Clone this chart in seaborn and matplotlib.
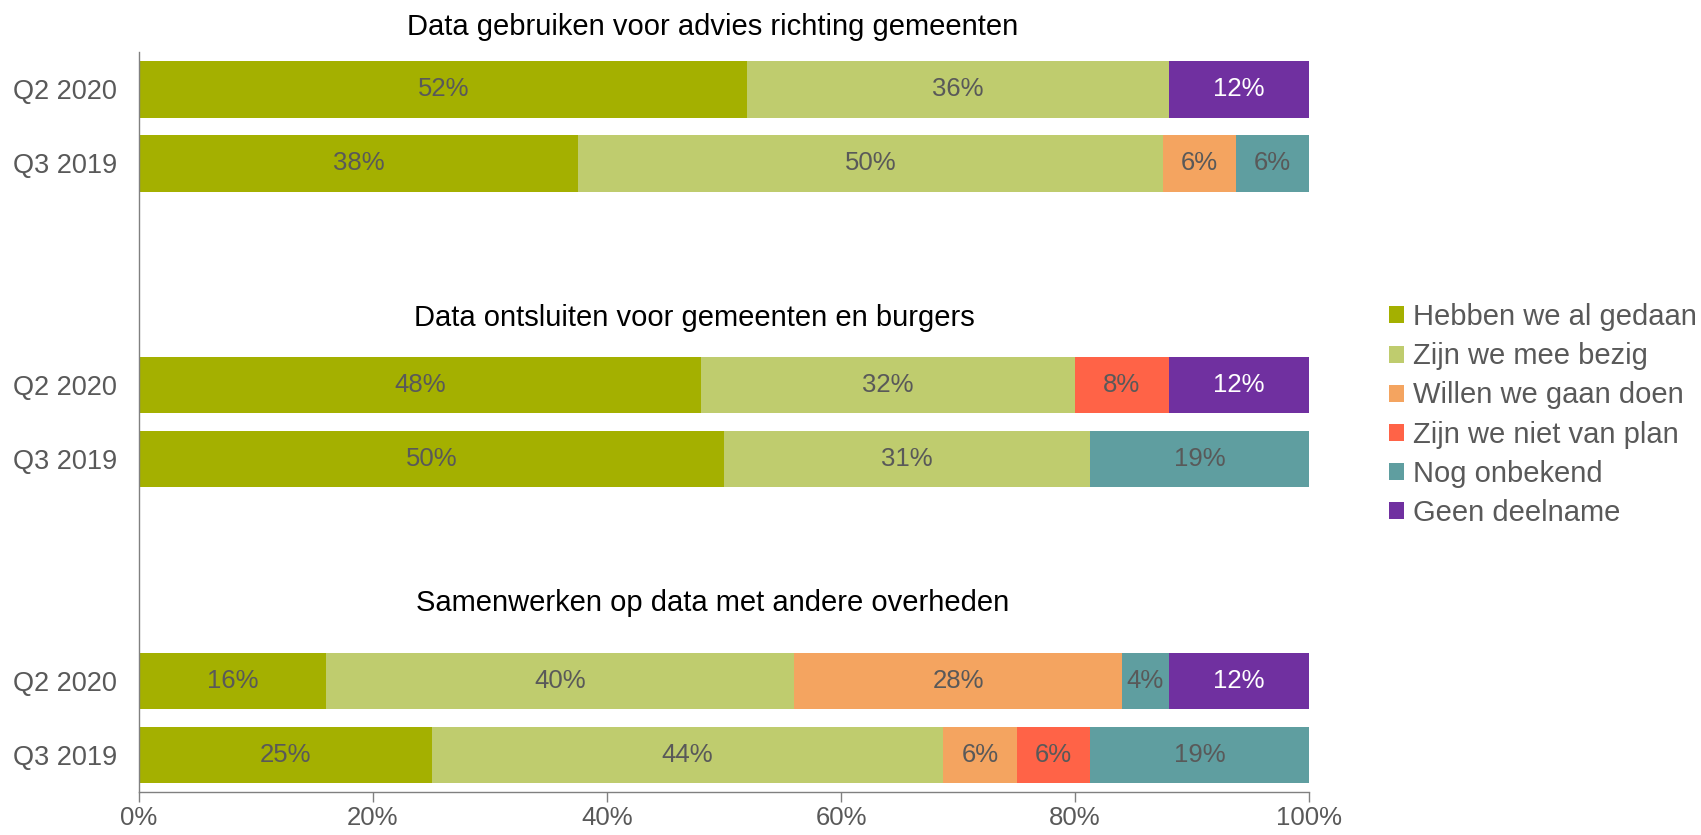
import numpy as np
import pandas as pd
import matplotlib
matplotlib.use("Agg")
import matplotlib.pyplot as plt
from matplotlib.patches import Patch
import seaborn as sns

# ---- data ----
groups = ["Data gebruiken voor advies richting gemeenten",
          "Data ontsluiten voor gemeenten en burgers",
          "Samenwerken op data met andere overheden"]
periods = ["Q2 2020", "Q3 2019"]
categories = ["Hebben we al gedaan", "Zijn we mee bezig", "Willen we gaan doen",
              "Zijn we niet van plan", "Nog onbekend", "Geen deelname"]
# rows: g1 Q2, g1 Q3, g2 Q2, g2 Q3, g3 Q2, g3 Q3
hebben = [52, 37.5, 48, 50, 16, 25]
bezig = [36, 50, 32, 31.25, 40, 43.75]
willen = [0, 6.25, 0, 0, 28, 6.25]
niet = [0, 0, 8, 0, 0, 6.25]
onbekend = [0, 6.25, 0, 18.75, 4, 18.75]
geen = [12, 0, 12, 0, 12, 0]
colors = ["#A4B000", "#BFCC6E", "#F4A460", "#FF6347", "#5F9EA0", "#7030A0"]
label_colors = ["#595959", "#595959", "#595959", "#595959", "#595959", "white"]

series = [hebben, bezig, willen, niet, onbekend, geen]

sns.set_theme(style="white")
plt.rcParams["font.family"] = ["Liberation Sans", "DejaVu Sans"]
TXT = "#595959"

fig = plt.figure(figsize=(17.01, 8.35), dpi=100)
ax = fig.add_axes([0.0817, 0.0515, 0.7696 - 0.0817, 0.9377 - 0.0515])

rows = [g * 4 + p for g in range(len(groups)) for p in range(len(periods))]
vals = np.array(series, dtype=float)  # (cat, row)
cum = np.cumsum(vals, axis=0)

# draw cumulative bars from last to first so that earlier segments overlay
for ci in range(len(categories) - 1, -1, -1):
    df = pd.DataFrame({"x": cum[ci], "y": rows})
    sns.barplot(data=df, x="x", y="y", orient="h", native_scale=True,
                color=colors[ci], width=0.77, linewidth=0, errorbar=None,
                saturation=1, ax=ax)

# value labels
for ci in range(len(categories)):
    for ri, r in enumerate(rows):
        v = vals[ci, ri]
        if v > 0:
            center = cum[ci, ri] - v / 2
            ax.text(center, r, f"{v:.0f}%", ha="center", va="center",
                    fontsize=18.5, color=label_colors[ci])

# group titles
title_pos = [(49, -0.84), (47.5, 3.10), (49, 6.95)]
for g, t in enumerate(groups):
    ax.text(title_pos[g][0], title_pos[g][1], t, ha="center", va="center",
            fontsize=21, color="black", clip_on=False)

ax.set_xlim(0, 100)
ax.set_ylim(9.5, -0.5)
ax.set_yticks(rows)
ax.set_yticklabels([p for g in groups for p in periods])
ax.set_xticks([0, 20, 40, 60, 80, 100])
ax.set_xticklabels([f"{t}%" for t in [0, 20, 40, 60, 80, 100]])
ax.set_xlabel("")
ax.set_ylabel("")
ax.tick_params(axis="y", length=0, pad=16, labelsize=19.5, labelcolor=TXT)
ax.tick_params(axis="x", length=7, width=1, color="#808080", direction="out",
               pad=3, labelsize=18.5, labelcolor=TXT, bottom=True)
for s in ["top", "right"]:
    ax.spines[s].set_visible(False)
for s in ["left", "bottom"]:
    ax.spines[s].set_color("#808080")
    ax.spines[s].set_linewidth(1)
ax.grid(False)

handles = [Patch(facecolor=c, edgecolor="none", label=l) for c, l in zip(colors, categories)]
leg = fig.legend(handles=handles, loc="center left", bbox_to_anchor=(0.8095, 0.503),
                 frameon=False, fontsize=21, handlelength=0.52, handleheight=0.52,
                 handletextpad=0.3, labelspacing=0.38, borderaxespad=0)
for t in leg.get_texts():
    t.set_color(TXT)

fig.savefig("out.png", dpi=100)
